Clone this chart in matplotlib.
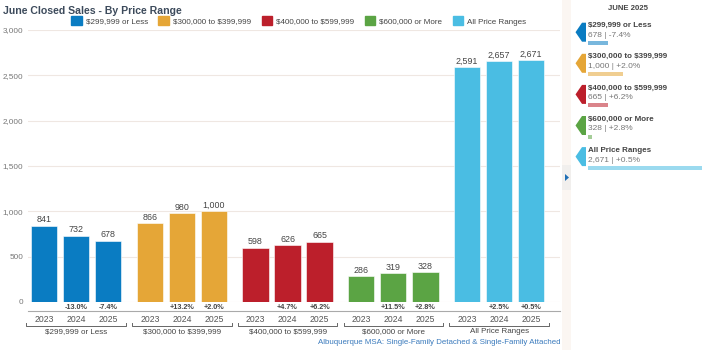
import matplotlib.pyplot as plt
import matplotlib.transforms as mtransforms
from matplotlib.patches import Polygon, Rectangle

plt.rcParams['font.family'] = ['Liberation Sans', 'DejaVu Sans']
plt.rcParams['text.parse_math'] = False

# data
groups = ["$299,999 or Less", "$300,000 to $399,999", "$400,000 to $599,999",
          "$600,000 or More", "All Price Ranges"]
years = ["2023", "2024", "2025"]
sales = [
    [841, 732, 678],
    [866, 980, 1000],
    [598, 626, 665],
    [286, 319, 328],
    [2591, 2657, 2671],
]
changes = [
    ["", "-13.0%", "-7.4%"],
    ["", "+13.2%", "+2.0%"],
    ["", "+4.7%", "+6.2%"],
    ["", "+11.5%", "+2.8%"],
    ["", "+2.5%", "+0.5%"],
]
colors = ["#0a7cc2", "#e5a637", "#bc1f2b", "#5ba444", "#4abde3"]
side_title = "JUNE 2025"
side_values = ["678 | -7.4%", "1,000 | +2.0%", "665 | +6.2%", "328 | +2.8%", "2,671 | +0.5%"]
side_numbers = [678, 1000, 665, 328, 2671]
footer = "Albuquerque MSA: Single-Family Detached & Single-Family Attached"

fig = plt.figure(figsize=(7.1, 3.5), dpi=100)
W, H = 710, 350

# overlay in pixel coords (y down)
ov = fig.add_axes([0, 0, 1, 1], zorder=0)
ov.set_xlim(0, W)
ov.set_ylim(H, 0)
ov.axis("off")

ax = fig.add_axes([28 / W, (H - 302) / H, (560 - 28) / W, (302 - 30) / H], zorder=2)
ax.patch.set_alpha(0)

gap = 3.3
xs_all = []
for g, vals in enumerate(sales):
    xs = [g * gap + j for j in range(3)]
    xs_all += xs
    bars = ax.bar(xs, vals, width=0.82, color=colors[g], edgecolor="#ffffff", linewidth=0.4, zorder=3)
    ax.bar_label(bars, labels=[f"{v:,}" for v in vals], padding=1, fontsize=6.4, color="#444444")

ax.set_xlim(-0.5, 16.1)
ax.set_ylim(0, 3000)
ax.set_yticks([0, 500, 1000, 1500, 2000, 2500, 3000])
ax.set_yticklabels(["0", "500", "1,000", "1,500", "2,000", "2,500", "3,000"])
ax.tick_params(axis="y", length=0, pad=3.5, labelsize=5.9, labelcolor="#777777")
ax.grid(axis="y", color="#efe7e2", linewidth=0.8, zorder=0)
ax.set_axisbelow(True)
for s in ["left", "right", "top"]:
    ax.spines[s].set_visible(False)
ax.spines["bottom"].set_position(("outward", 6.5))
ax.spines["bottom"].set_color("#aaaaaa")
ax.spines["bottom"].set_linewidth(0.8)
ax.set_xticks(xs_all)
ax.set_xticklabels(years * len(groups))
ax.tick_params(axis="x", length=0, pad=3, labelsize=6.2, labelcolor="#555555")

# x in data, y in figure pixels
trans = mtransforms.blended_transform_factory(ax.transData, ov.transData)
for g in range(len(groups)):
    x0 = g * gap
    for j in range(3):
        if changes[g][j]:
            ax.text(x0 + j, 307.5, changes[g][j], transform=trans, ha="center", va="center",
                    fontsize=5.2, fontweight="bold", color="#444444", clip_on=False)
    ax.plot([x0 - 0.55, x0 - 0.55, x0 + 2.55, x0 + 2.55], [323, 326, 326, 323],
            transform=trans, color="#666666", linewidth=0.7, clip_on=False)
    ax.text(x0 + 1, 331.5, groups[g], transform=trans, ha="center", va="center",
            fontsize=5.8, color="#444444", clip_on=False)

ov.text(560, 342, footer, ha="right", va="center", fontsize=5.7, color="#3b7bbd")

# title and legend
ov.text(3, 11, "June Closed Sales - By Price Range", ha="left", va="center",
        fontsize=7.6, fontweight="bold", color="#3d4b5c")
handles = [Rectangle((0, 0), 1, 1, color=c) for c in colors]
fig.legend(handles, groups, loc="center left", bbox_to_anchor=(64 / W, 1 - 21 / H),
           ncol=5, frameon=False, fontsize=5.8, handlelength=1.3, handleheight=1.3,
           handletextpad=0.5, columnspacing=1.3, labelcolor="#444444")

# sidebar
ov.add_patch(Rectangle((562, 0), 9, H, color="#fbf6f2", lw=0))
ov.add_patch(Rectangle((562, 165), 9, 25, color="#f1efed", lw=0))
ov.add_patch(Polygon([(565, 174), (565, 181), (569, 177.5)], closed=True, color="#1f6fb5", lw=0))
ov.text(628, 9, side_title, ha="center", va="center", fontsize=5.6, fontweight="bold", color="#444444")
for i, name in enumerate(groups):
    ty = 25.7 + i * 31.1
    cy = ty + 6.5
    ov.add_patch(Polygon([(586, cy - 9.5), (582, cy - 9.5), (575.5, cy), (582, cy + 9.5), (586, cy + 9.5)],
                         closed=True, color=colors[i], lw=0))
    ov.text(588, ty, name, ha="left", va="center", fontsize=5.8, fontweight="bold", color="#444444")
    ov.text(588, ty + 10, side_values[i], ha="left", va="center", fontsize=6, color="#777777")
    length = (side_numbers[i] - 250) / (max(side_numbers) - 250) * 114
    ov.add_patch(Rectangle((588, ty + 15.5), length, 4, color=colors[i], alpha=0.55, lw=0))

fig.savefig("out.png", dpi=100)
